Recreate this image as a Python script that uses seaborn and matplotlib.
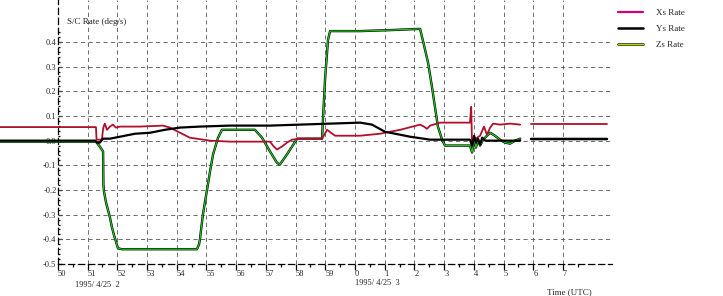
import numpy as np
import pandas as pd
import matplotlib
matplotlib.use("Agg")
import matplotlib.pyplot as plt
import matplotlib.patheffects as pe
from matplotlib.lines import Line2D
import seaborn as sns

# ---------------- data (time in minutes after 02:00 UTC, rate in deg/s) -------------
xs_time = [48.05, 51.28, 51.30, 51.48, 51.52, 51.55, 51.58, 51.65, 51.75, 51.85, 51.95,
           52.09, 52.76, 53.54, 53.77, 54.11, 54.44, 55.12, 55.79, 57.14, 57.24, 57.37,
           57.54, 57.71, 57.88, 58.15, 58.89, 59.06, 59.19, 59.33, 60.17, 60.84, 61.52,
           62.19, 62.32, 62.42, 62.53, 62.86, 63.87, 63.91, 63.94, 64.01, 64.11, 64.21,
           64.34, 64.44, 64.55, 64.65, 64.88, 65.22, 65.56, np.nan, 65.93, 68.48]
xs_rate = [0.055, 0.055, 0.004, 0.004, 0.048, 0.061, 0.069, 0.044, 0.057, 0.065, 0.053,
           0.057, 0.057, 0.061, 0.053, 0.032, 0.012, 0.000, -0.004, -0.004, -0.020, -0.036,
           -0.024, -0.008, 0.004, 0.008, 0.008, 0.044, 0.032, 0.020, 0.020, 0.028, 0.044,
           0.065, 0.057, 0.048, 0.061, 0.073, 0.073, 0.137, -0.020, 0.004, 0.012, 0.020,
           0.057, 0.024, 0.053, 0.069, 0.065, 0.069, 0.065, np.nan, 0.069, 0.069]

ys_time = [48.05, 51.25, 51.31, 51.41, 51.52, 51.75, 52.09, 52.59, 53.10, 53.60, 54.11,
           54.78, 55.79, 57.14, 58.15, 59.16, 60.17, 60.57, 61.01, 61.52, 61.85, 62.53,
           63.87, 63.94, 64.01, 64.07, 64.14, 64.21, 64.28, 64.38, 64.55, 65.56, np.nan,
           65.93, 68.48]
ys_rate = [0.000, 0.000, -0.008, -0.008, 0.008, 0.008, 0.016, 0.028, 0.032, 0.044, 0.053,
           0.057, 0.061, 0.061, 0.065, 0.069, 0.073, 0.065, 0.036, 0.024, 0.016, 0.004,
           0.004, -0.020, 0.020, -0.008, 0.008, -0.016, 0.012, 0.000, 0.000, 0.000, np.nan,
           0.008, 0.008]

zs_time = [48.05, 51.28, 51.41, 51.52, 51.53, 51.55, 51.62, 51.68, 51.75, 51.82, 51.89,
           51.95, 52.02, 52.15, 54.68, 54.75, 54.78, 54.88, 55.02, 55.12, 55.22, 55.29,
           55.39, 55.52, 56.63, 56.87, 57.14, 57.37, 57.47, 57.68, 57.88, 58.05, 58.89,
           58.92, 58.99, 59.09, 59.16, 60.17, 61.18, 62.19, 62.32, 62.46, 62.59, 62.69,
           62.79, 62.93, 63.03, 63.87, 63.94, 64.01, 64.07, 64.14, 64.21, 64.31, 64.41,
           64.55, 64.71, 64.88, 65.05, 65.22, 65.39, 65.56, np.nan, 65.93, 68.48]
zs_rate = [-0.004, -0.004, -0.024, -0.044, -0.178, -0.206, -0.251, -0.279, -0.311, -0.352,
           -0.384, -0.408, -0.436, -0.440, -0.440, -0.420, -0.400, -0.299, -0.198, -0.125,
           -0.057, -0.028, 0.012, 0.044, 0.044, 0.012, -0.044, -0.089, -0.097, -0.061,
           -0.024, 0.008, 0.008, 0.085, 0.246, 0.408, 0.444, 0.444, 0.448, 0.453, 0.388,
           0.315, 0.218, 0.137, 0.057, 0.004, -0.020, -0.020, -0.048, 0.008, -0.028,
           0.004, -0.020, 0.004, 0.016, 0.032, 0.020, 0.004, -0.008, -0.012, 0.000,
           0.008, np.nan, 0.008, 0.008]

series_names = ["Xs Rate", "Ys Rate", "Zs Rate"]
y_ticks = [0.4, 0.3, 0.2, 0.1, 0.0, -0.1, -0.2, -0.3, -0.4, -0.5]
x_ticks = list(range(50, 68))
x_tick_labels = ["50", "51", "52", "53", "54", "55", "56", "57", "58", "59",
                 "0", "1", "2", "3", "4", "5", "6", "7"]
y_title = "S/C Rate (deg/s)"
date_labels = ["1995/ 4/25  2", "1995/ 4/25  3"]
x_title = "Time (UTC)"

# ---------------- styling --------------------------------------------------------------
sns.set_theme(style="white")
plt.rcParams["font.family"] = ["Liberation Serif", "DejaVu Serif"]

W, H = 723, 296
fig = plt.figure(figsize=(W / 100, H / 100), dpi=100)
ax = fig.add_axes([0, 0.108, 612 / W, 0.892])
ax.set_facecolor("white")

xlim = (48.05, 68.65)
ax.set_xlim(*xlim)
ax.set_ylim(-0.5, 0.57)


def segments(t, v, name):
    rows = []
    seg = 0
    for a, b in zip(t, v):
        if np.isnan(a):
            seg += 1
            continue
        rows.append((a, b, name, seg))
    return pd.DataFrame(rows, columns=["minute", "rate", "series", "segment"])


df = pd.concat([segments(xs_time, xs_rate, series_names[0]),
                segments(ys_time, ys_rate, series_names[1]),
                segments(zs_time, zs_rate, series_names[2])], ignore_index=True)

# grid (dashed, light)
ax.vlines(x_ticks[1:], -0.5, 0.57, colors="#555555", linestyles=(0, (5, 4)), lw=0.6, zorder=1)
ax.hlines(y_ticks[:-1], 50, xlim[1], colors="#555555", linestyles=(0, (5, 4)), lw=0.6, zorder=1)

styles = {
    "Zs Rate": dict(color="#1fc41f", lw=0.9, z=3),
    "Xs Rate": dict(color="#b0102c", lw=1.3, z=4),
    "Ys Rate": dict(color="black", lw=1.6, z=5),
}
for name in ["Zs Rate", "Xs Rate", "Ys Rate"]:
    sub = df[df["series"] == name]
    st = styles[name]
    n0 = len(ax.lines)
    sns.lineplot(data=sub, x="minute", y="rate", units="segment", estimator=None,
                 sort=False, color=st["color"], lw=st["lw"], ax=ax, zorder=st["z"],
                 legend=False)
    if name == "Zs Rate":
        for ln in ax.lines[n0:]:
            ln.set_path_effects([pe.Stroke(linewidth=1.7, foreground="black"), pe.Normal()])

# spines
for s in ["top", "right"]:
    ax.spines[s].set_visible(False)
ax.spines["left"].set_position(("data", 50))
ax.spines["left"].set_linestyle((0, (5, 3)))
ax.spines["left"].set_bounds(-0.5, 0.57)
ax.spines["bottom"].set_bounds(50, xlim[1])
ax.spines["bottom"].set_linestyle((0, (5, 3)))
for s in ["left", "bottom"]:
    ax.spines[s].set_color("black")
    ax.spines[s].set_linewidth(0.9)

ax.set_xticks(x_ticks)
ax.set_xticklabels(x_tick_labels, fontsize=6, ha="left")
ax.set_xticks(np.arange(50.5, 68, 1.0), minor=True)
ax.set_yticks(y_ticks)
ax.set_yticklabels([f"{v:.1f}" for v in y_ticks], fontsize=6)
ax.set_yticks(np.arange(-0.5, 0.46, 0.02), minor=True)
ax.tick_params(axis="x", which="major", direction="out", length=4, width=0.9,
               color="black", pad=0, bottom=True)
ax.tick_params(axis="x", which="minor", direction="out", length=2, width=0.9,
               color="black", bottom=True)
ax.tick_params(axis="y", which="major", direction="in", length=3, width=0.9,
               color="black", pad=1, left=True)
ax.tick_params(axis="y", which="minor", direction="in", length=1.5, width=0.9,
               color="black", left=True)
ax.set_xlabel("")
ax.set_ylabel("")

# texts
fig.text(67 / W, 1 - 22 / H, y_title, fontsize=6.5, va="center", ha="left")
fig.text(75 / W, 1 - 285 / H, date_labels[0], fontsize=6, va="center", ha="left")
fig.text(355 / W, 1 - 283 / H, date_labels[1], fontsize=6, va="center", ha="left")
fig.text(547 / W, 1 - 292 / H, x_title, fontsize=6.5, va="center", ha="left")

# legend
handles = [
    Line2D([], [], color="#d4007a", lw=1.6),
    Line2D([], [], color="black", lw=1.8),
    Line2D([], [], color="#a8e000", lw=1.0,
           path_effects=[pe.Stroke(linewidth=1.8, foreground="black"), pe.Normal()]),
]
fig.legend(handles, series_names, loc="upper left", bbox_to_anchor=(614 / W, 1 - 5 / H),
           frameon=False, fontsize=6.5, handlelength=2.8, handletextpad=1.4,
           labelspacing=0.85, borderaxespad=0)

fig.savefig("out.png", dpi=100, facecolor="white")
